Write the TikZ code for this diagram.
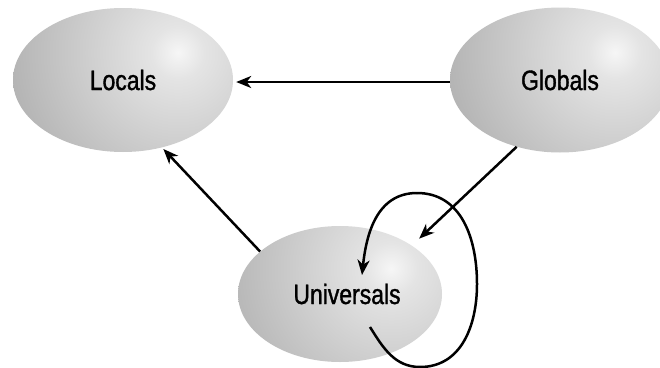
\documentclass[tikz,border=0pt]{standalone}
\usepackage{fontspec}
\setmainfont{Liberation Sans}[FakeStretch=0.82,FakeBold=1.2]
\usetikzlibrary{shapes.geometric,arrows.meta,calc}
\definecolor{gzero}{HTML}{F6F6F6}
\definecolor{gone}{HTML}{E4E4E4}
\definecolor{gtwo}{HTML}{7C7C7C}
\pgfdeclareradialshading{glow}{\pgfpointorigin}{color(0bp)=(gzero); color(3bp)=(gone); color(38bp)=(gtwo); color(50bp)=(gtwo)}
\begin{document}
\begin{tikzpicture}[x=1pt,y=1pt,
  blob/.style={ellipse, inner sep=0pt, draw=none,
    font=\fontsize{28}{32}\selectfont,
    path picture={\shade[shading=glow]
      ($(path picture bounding box.center)+(0.5*#1,0.25*#1)$) circle (220pt);}},
  blob/.default=110,
  txt/.style={inner sep=0pt, font=\fontsize{28}{32}\selectfont},
  arr/.style={line width=2.5pt, -{Stealth[length=15pt,width=12pt,inset=4.5pt]}}]
\useasboundingbox (0,0) rectangle (660,-367);
\fill[white] (0,0) rectangle (660,-367);
\node[blob, minimum width=220pt, minimum height=144pt] (l) at (123,-80) {Locals};
\node[blob, minimum width=220pt, minimum height=145pt] (g) at (560,-80) {Globals};
\node[blob=102, minimum width=204pt, minimum height=136pt] (u) at (340,-294) {};
\node[txt] (ut) at (347,-294) {Universals};
\draw[arr, shorten >=3pt] ([yshift=-2pt]g.west) -- ([yshift=-2pt]l.east);
\draw[arr, shorten >=10pt] (g.237) -- (u.34);
\draw[arr, shorten >=2pt] (u.152) -- (l.-60);
\coordinate (ls) at ($(u.center)+(30,-33)$);
\coordinate (lb) at ($(u.center)+(80,-73)$);
\coordinate (lr) at ($(u.center)+(137,10)$);
\coordinate (lt) at ($(u.center)+(77,101)$);
\coordinate (le) at ($(u.center)+(22,19)$);
\draw[line width=2.5pt] (ls) to[out=-58,in=180] (lb) to[out=0,in=-90,looseness=1.05] (lr) to[out=90,in=0,looseness=1.05] (lt);
\draw[arr] (lt) to[out=180,in=84,looseness=1.05] (le);
\end{tikzpicture}
\end{document}
